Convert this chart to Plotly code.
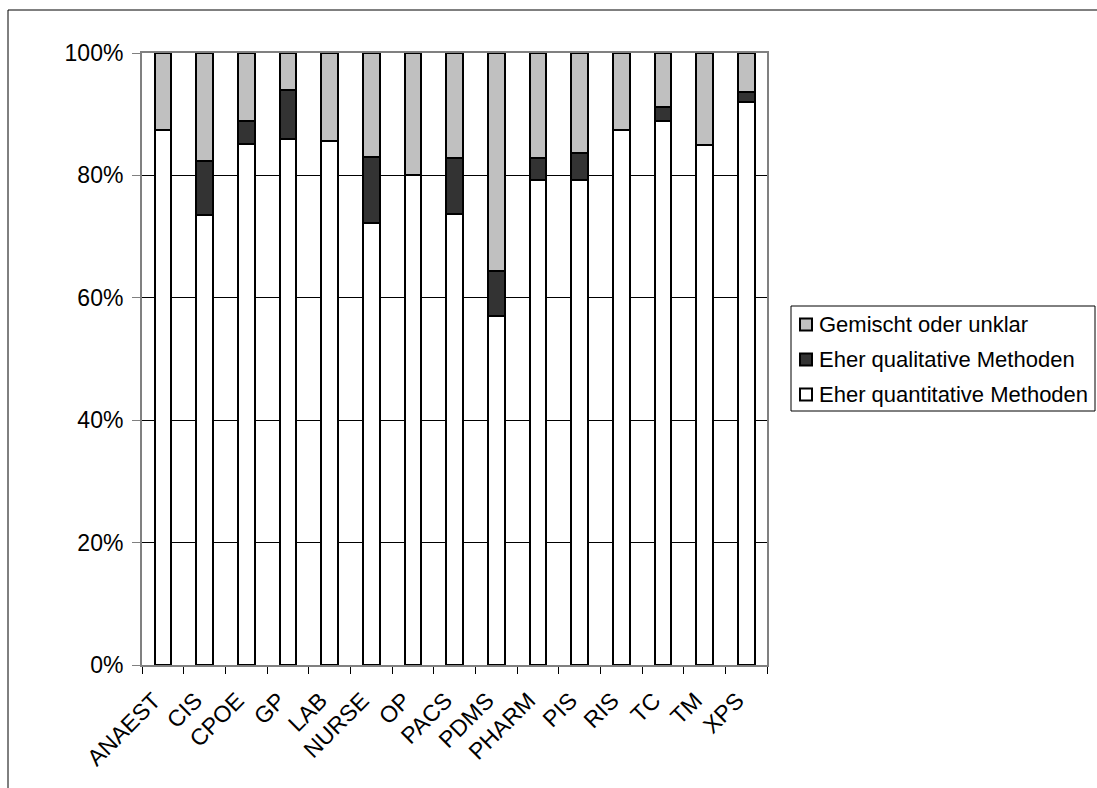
import plotly.graph_objects as go

# Share of methods per system type (percent of studies)
categories = ["ANAEST", "CIS", "CPOE", "GP", "LAB", "NURSE", "OP", "PACS",
              "PDMS", "PHARM", "PIS", "RIS", "TC", "TM", "XPS"]
quantitative = [87.5, 73.5, 85.2, 86.0, 85.7, 72.3, 80.0, 73.7,
                57.1, 79.3, 79.2, 87.5, 88.9, 85.0, 92.0]
qualitative = [0.0, 8.8, 3.7, 8.0, 0.0, 10.7, 0.0, 9.2,
               7.2, 3.5, 4.5, 0.0, 2.2, 0.0, 1.7]
mixed = [12.5, 17.7, 11.1, 6.0, 14.3, 17.0, 20.0, 17.1,
         35.7, 17.2, 16.3, 12.5, 8.9, 15.0, 6.3]

series = [
    ("Eher quantitative Methoden", quantitative, "#FFFFFF"),
    ("Eher qualitative Methoden", qualitative, "#333333"),
    ("Gemischt oder unklar", mixed, "#C0C0C0"),
]

FONT = "Liberation Sans, Arial, sans-serif"
TICK_SIZE = 23
LEGEND_SIZE = 22

fig = go.Figure()
for name, values, color in series:
    fig.add_trace(go.Bar(
        name=name,
        x=categories,
        y=values,
        marker=dict(color=color, line=dict(color="#000000", width=2)),
        showlegend=False,
    ))

W, H = 1097, 788
L, R, T, B = 142, 767, 53, 665
pw, ph = R - L, B - T


def px_x(x):
    return (x - L) / pw


def px_y(y):
    return (B - y) / ph


# Outer chart frame
shapes = [
    dict(type="rect", xref="paper", yref="paper",
         x0=px_x(8), y0=px_y(H + 20), x1=px_x(W + 20), y1=px_y(10),
         line=dict(color="#000000", width=1), fillcolor="rgba(0,0,0,0)",
         layer="below"),
]
annotations = []

# Legend box, entries listed top-down in reverse stacking order
LEG_L, LEG_R, LEG_T, ROW = 791, 1095, 306, 35
shapes.append(dict(type="rect", xref="paper", yref="paper",
                   x0=px_x(LEG_L), x1=px_x(LEG_R),
                   y0=px_y(LEG_T + 3 * ROW), y1=px_y(LEG_T),
                   line=dict(color="#000000", width=1),
                   fillcolor="#FFFFFF", layer="above"))
for i, (name, _, color) in enumerate(reversed(series)):
    cy = LEG_T + ROW * (i + 0.5) + 1
    shapes.append(dict(type="rect", xref="paper", yref="paper",
                       x0=px_x(800), x1=px_x(812),
                       y0=px_y(cy + 6), y1=px_y(cy - 6),
                       line=dict(color="#000000", width=2),
                       fillcolor=color, layer="above"))
    annotations.append(dict(xref="paper", yref="paper",
                            x=px_x(817), y=px_y(cy),
                            xanchor="left", yanchor="middle",
                            text=name, showarrow=False,
                            font=dict(family=FONT, size=LEGEND_SIZE,
                                      color="#000000")))

pad = "\u00a0\u00a0"
fig.update_layout(
    width=W,
    height=H,
    barmode="stack",
    bargap=0.6,
    margin=dict(l=L, r=W - R, t=T, b=H - B, pad=0),
    paper_bgcolor="#FFFFFF",
    plot_bgcolor="#FFFFFF",
    font=dict(family=FONT, size=TICK_SIZE, color="#000000"),
    showlegend=False,
    xaxis=dict(
        type="category",
        tickangle=-45,
        tickson="boundaries",
        tickvals=categories,
        ticktext=[c + pad for c in categories],
        ticks="outside", ticklen=7, tickcolor="#000000", tickwidth=1,
        showline=True, linecolor="#808080", linewidth=2, mirror=True,
        showgrid=False,
        ticklabelstandoff=2,
        tickfont=dict(family=FONT, size=TICK_SIZE, color="#000000"),
    ),
    yaxis=dict(
        range=[0, 100],
        tickvals=[0, 20, 40, 60, 80, 100],
        ticktext=["0%", "20%", "40%", "60%", "80%", "100%"],
        ticks="outside", ticklen=8, tickcolor="#808080", tickwidth=1,
        showline=True, linecolor="#808080", linewidth=2, mirror=True,
        showgrid=True, gridcolor="#000000", gridwidth=1,
        zeroline=False,
        ticklabelstandoff=4,
        tickfont=dict(family=FONT, size=TICK_SIZE, color="#000000"),
    ),
    shapes=shapes,
    annotations=annotations,
)

fig.write_html("out.html")
